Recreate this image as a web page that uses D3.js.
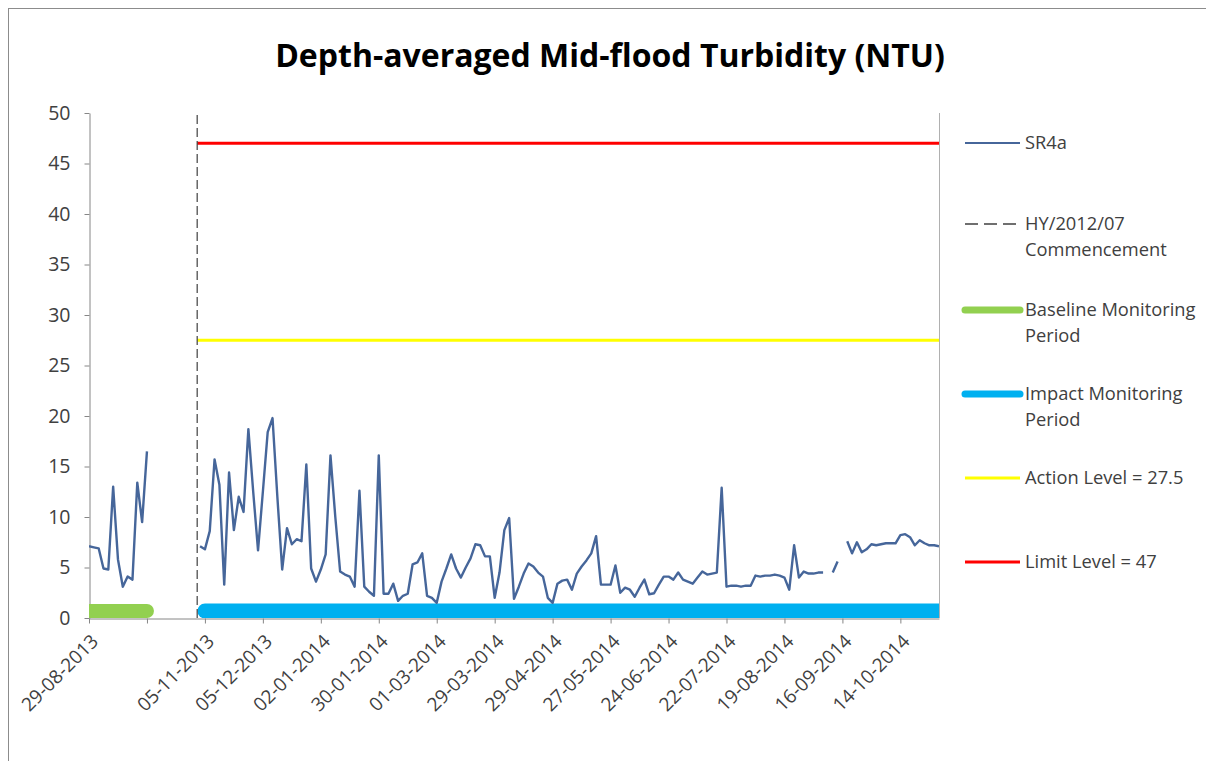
<!DOCTYPE html>
<html>
<head>
<meta charset="utf-8">
<script src="https://cdn.jsdelivr.net/npm/d3@7"></script>
<style>
  html, body { margin: 0; padding: 0; background: #ffffff; }
  svg { display: block; }
</style>
</head>
<body>
<script>
// ---------------- DATA ----------------
// Category axis: 177 sampling events, a label every 12 categories
const categoryCount = 177;
const labelInterval = 12;
const tickLabels = ["29-08-2013", "", "05-11-2013", "05-12-2013", "02-01-2014", "30-01-2014",
  "01-03-2014", "29-03-2014", "29-04-2014", "27-05-2014", "24-06-2014", "22-07-2014",
  "19-08-2014", "16-09-2014", "14-10-2014"];
const yTicks = [0, 5, 10, 15, 20, 25, 30, 35, 40, 45, 50];

// SR4a baseline readings (categories 0..12)
const baselineStart = 0;
const baselineSR4a = [7.1, 7.0, 6.9, 4.9, 4.8, 13.0, 5.8, 3.1, 4.1, 3.8, 13.4, 9.5, 16.5];

// SR4a impact readings (categories 23..176), null = no data
const impactStart = 23;
const impactSR4a = [
  7.1, 6.8, 8.6, 15.7, 13.2, 3.3, 14.4, 8.7, 12.0, 10.5,
  18.7, 12.5, 6.7, 12.5, 18.4, 19.8, 12.0, 4.8, 8.9, 7.3,
  7.8, 7.6, 15.2, 4.9, 3.6, 4.8, 6.3, 16.1, 10.0, 4.6,
  4.3, 4.1, 3.1, 12.6, 3.1, 2.6, 2.2, 16.1, 2.4, 2.4,
  3.4, 1.7, 2.2, 2.4, 5.3, 5.5, 6.4, 2.2, 2.0, 1.5,
  3.6, 4.9, 6.3, 4.9, 4.0, 5.0, 5.9, 7.3, 7.2, 6.1,
  6.1, 2.0, 4.5, 8.7, 9.9, 1.9, 3.1, 4.4, 5.4, 5.1,
  4.5, 4.1, 2.0, 1.5, 3.4, 3.7, 3.8, 2.8, 4.4, 5.1,
  5.7, 6.4, 8.1, 3.3, 3.3, 3.3, 5.2, 2.5, 3.0, 2.8,
  2.1, 3.0, 3.8, 2.35, 2.45, 3.3, 4.1, 4.1, 3.8, 4.5,
  3.8, 3.6, 3.4, 4.0, 4.6, 4.3, 4.4, 4.5, 12.9, 3.1,
  3.2, 3.2, 3.1, 3.2, 3.2, 4.2, 4.1, 4.2, 4.2, 4.3,
  4.2, 4.0, 2.8, 7.2, 4.0, 4.6, 4.4, 4.4, 4.5, 4.5,
  null, 4.5, 5.6, null, 7.6, 6.4, 7.5, 6.5, 6.8, 7.3,
  7.2, 7.3, 7.4, 7.4, 7.4, 8.2, 8.3, 8.0, 7.2, 7.7,
  7.4, 7.2, 7.2, 7.1
];

// Periods (category ranges) and their plotted level
const baselinePeriod = [0, 12];
const impactPeriod = [24, 176];
const periodLevel = 0.7;

// Commencement of HY/2012/07 (category position)
const commencementIndex = 22.4;

// Action / Limit levels
const actionLevel = 27.5;
const limitLevel = 47;

const legendLabels = [
  ["SR4a"],
  ["HY/2012/07", "Commencement"],
  ["Baseline Monitoring", "Period"],
  ["Impact Monitoring", "Period"],
  ["Action Level = 27.5"],
  ["Limit Level = 47"]
];

// ---------------- CHART ----------------
const W = 1206, H = 761;
const plot = { left: 89, right: 939, top: 113, bottom: 618 };
const font = "'Open Sans', 'DejaVu Sans', sans-serif";
const textColor = "#404040";
const axisColor = "#868686";
const seriesColor = "#46669a";

const svg = d3.select("body").append("svg").attr("width", W).attr("height", H);
svg.append("rect").attr("width", W).attr("height", H).attr("fill", "#fff");

// outer chart border
svg.append("rect").attr("x", 8.5).attr("y", 8.5).attr("width", W + 20).attr("height", H + 20)
  .attr("fill", "none").attr("stroke", "#8c8c8c").attr("stroke-width", 1);

const x = d3.scaleLinear().domain([0, categoryCount - 1]).range([plot.left, plot.right]);
const y = d3.scaleLinear().domain([0, 50]).range([plot.bottom, plot.top]);

svg.append("clipPath").attr("id", "plotclip").append("rect")
  .attr("x", plot.left).attr("y", plot.top - 10)
  .attr("width", plot.right - plot.left).attr("height", plot.bottom - plot.top + 10);

// Title
const title = svg.append("text")
  .attr("x", 610).attr("y", 67)
  .attr("text-anchor", "middle")
  .attr("font-family", font).attr("font-weight", "bold").attr("font-size", 28)
  .attr("fill", "#000")
  .text("Depth-averaged Mid-flood Turbidity (NTU)");
{
  const w = title.node().getComputedTextLength();
  title.attr("font-size", 28 * 670 / w);
}

// right border of plot area
svg.append("line").attr("x1", plot.right + 0.5).attr("x2", plot.right + 0.5)
  .attr("y1", plot.top).attr("y2", plot.bottom)
  .attr("stroke", "#b0b0b0").attr("stroke-width", 1);

// Y axis
const yAxis = svg.append("g").attr("transform", `translate(${plot.left + 0.5},0)`)
  .call(d3.axisLeft(y).tickValues(yTicks).tickSize(5).tickPadding(14).tickSizeOuter(0));
yAxis.select(".domain").attr("stroke", axisColor);
yAxis.selectAll(".tick line").attr("stroke", axisColor);
yAxis.selectAll("text").attr("font-family", font).attr("font-size", 19.5).attr("fill", textColor);

// X axis
const tickIdx = tickLabels.map((d, i) => i * labelInterval);
const xAxis = svg.append("g").attr("transform", `translate(0,${plot.bottom + 0.5})`)
  .call(d3.axisBottom(x).tickValues(tickIdx)
    .tickFormat(d => tickLabels[d / labelInterval]).tickSize(5).tickSizeOuter(0));
xAxis.select(".domain").attr("stroke", axisColor);
xAxis.selectAll(".tick line").attr("stroke", axisColor);
xAxis.selectAll("text")
  .attr("font-family", font).attr("font-size", 19).attr("fill", textColor)
  .attr("text-anchor", "end").attr("x", 0).attr("y", 0).attr("dy", 0)
  .attr("transform", "translate(10,24) rotate(-45)");

const g = svg.append("g").attr("clip-path", "url(#plotclip)");

// Limit & action level lines
const levelLine = d3.line().x(d => x(d[0])).y(d => y(d[1]));
g.append("path").datum([[commencementIndex, limitLevel], [categoryCount - 1, limitLevel]])
  .attr("d", levelLine).attr("stroke", "#ff0000").attr("stroke-width", 3).attr("fill", "none");
g.append("path").datum([[commencementIndex, actionLevel], [categoryCount - 1, actionLevel]])
  .attr("d", levelLine).attr("stroke", "#ffff00").attr("stroke-width", 3).attr("fill", "none");

// Monitoring period bars
g.append("path").datum([[baselinePeriod[0], periodLevel], [baselinePeriod[1], periodLevel]])
  .attr("d", levelLine).attr("stroke", "#92d050").attr("stroke-width", 14)
  .attr("stroke-linecap", "round").attr("fill", "none");
g.append("path").datum([[impactPeriod[0], periodLevel], [impactPeriod[1], periodLevel]])
  .attr("d", levelLine).attr("stroke", "#00b0f0").attr("stroke-width", 15)
  .attr("stroke-linecap", "round").attr("fill", "none");

// Commencement dashed line
g.append("path").datum([[commencementIndex, 0], [commencementIndex, 50]])
  .attr("d", levelLine).attr("stroke", "#404040").attr("stroke-width", 1.2)
  .attr("stroke-dasharray", "9,4").attr("fill", "none");

// SR4a series
const seriesPts = [];
baselineSR4a.forEach((v, i) => seriesPts.push([baselineStart + i, v]));
seriesPts.push([baselineStart + baselineSR4a.length, null]);
impactSR4a.forEach((v, i) => seriesPts.push([impactStart + i, v]));
const seriesLine = d3.line().defined(d => d[1] != null).x(d => x(d[0])).y(d => y(d[1]));
g.append("path").datum(seriesPts).attr("d", seriesLine)
  .attr("stroke", seriesColor).attr("stroke-width", 2.4).attr("fill", "none")
  .attr("stroke-linejoin", "round");

// Legend
const legendY = [143, 224, 310, 394, 478, 562];
const legendX0 = 965, legendX1 = 1020, legendTextX = 1025;
const lg = svg.append("g");
const sampleStyles = [
  { stroke: seriesColor, width: 2.2 },
  { stroke: "#404040", width: 1.3, dash: "13,6" },
  { stroke: "#92d050", width: 7, cap: "round" },
  { stroke: "#00b0f0", width: 7, cap: "round" },
  { stroke: "#ffff00", width: 3 },
  { stroke: "#ff0000", width: 3 }
];
legendLabels.forEach((lines, i) => {
  const s = sampleStyles[i];
  const yy = legendY[i];
  lg.append("line").attr("x1", legendX0).attr("x2", legendX1).attr("y1", yy).attr("y2", yy)
    .attr("stroke", s.stroke).attr("stroke-width", s.width)
    .attr("stroke-dasharray", s.dash || null)
    .attr("stroke-linecap", s.cap || "butt");
  const t = lg.append("text").attr("x", legendTextX).attr("y", yy)
    .attr("font-family", font).attr("font-size", 18.3).attr("fill", textColor);
  lines.forEach((ln, k) => {
    t.append("tspan").attr("x", legendTextX).attr("dy", k === 0 ? "0.35em" : 26).text(ln);
  });
});
</script>
</body>
</html>
